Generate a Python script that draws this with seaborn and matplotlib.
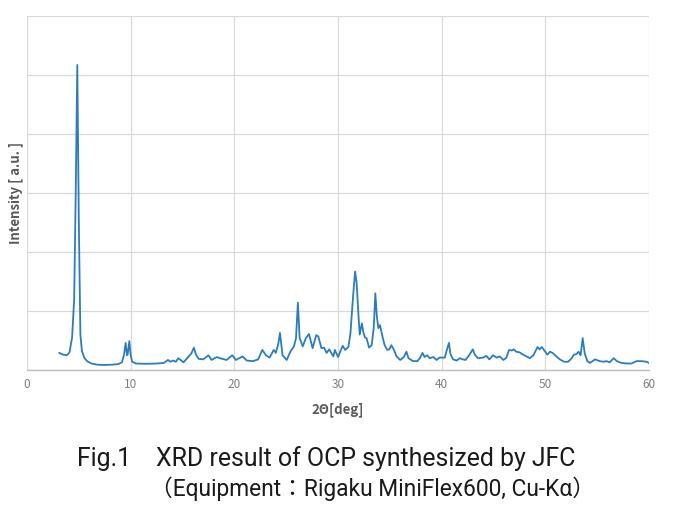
import matplotlib
matplotlib.use("Agg")
import matplotlib.pyplot as plt
import seaborn as sns
import pandas as pd

two_theta = [3.1, 3.5, 3.85, 4.1, 4.35, 4.55, 4.7, 4.85, 5.0, 5.15, 5.3, 5.55, 5.8, 6.2, 6.8, 7.5, 8.2, 8.8,
             9.15, 9.35, 9.52, 9.65, 9.72, 9.87, 10.0, 10.15, 10.5, 11.5, 12.5, 13.2, 13.6, 13.85, 14.1, 14.35,
             14.6, 15.1, 15.55, 15.85, 16.1, 16.3, 16.55, 17.0, 17.5, 17.8, 18.3, 18.6, 19.25, 19.8, 20.15,
             20.8, 21.2, 21.8, 22.3, 22.7, 23.05, 23.4, 23.8, 24.0, 24.25, 24.4, 24.65, 25.05, 25.4, 25.75,
             25.95, 26.13, 26.3, 26.6, 26.9, 27.2, 27.55, 27.9, 28.1, 28.4, 28.65, 28.9, 29.15, 29.55, 29.7,
             30.0, 30.45, 30.7, 31.0, 31.2, 31.45, 31.65, 31.8, 32.0, 32.1, 32.3, 32.45, 32.6, 32.75, 33.0,
             33.25, 33.45, 33.6, 33.75, 33.9, 34.05, 34.3, 34.5, 34.75, 34.95, 35.15, 35.4, 35.65, 36.0,
             36.35, 36.6, 36.8, 37.25, 37.65, 37.9, 38.15, 38.35, 38.6, 38.85, 39.2, 39.5, 39.8, 40.3, 40.5,
             40.7, 40.85, 41.1, 41.45, 41.75, 42.05, 42.3, 42.65, 43.0, 43.2, 43.5, 44.0, 44.3, 44.6, 44.95,
             45.3, 45.6, 45.95, 46.25, 46.5, 46.75, 46.95, 47.2, 47.5, 47.85, 48.2, 48.5, 48.85, 49.1, 49.25,
             49.45, 49.65, 49.95, 50.2, 50.45, 50.7, 51.0, 51.4, 51.8, 52.2, 52.55, 52.75, 53.0, 53.2, 53.4,
             53.6, 53.8, 54.05, 54.3, 54.8, 55.25, 55.6, 55.9, 56.2, 56.6, 56.9, 57.35, 57.85, 58.3, 58.8,
             59.3, 59.75, 60.0]
intensity = [0.29, 0.26, 0.25, 0.30, 0.55, 1.2, 3.0, 5.17, 2.5, 0.6, 0.32, 0.2, 0.15, 0.11, 0.09, 0.085, 0.09, 0.1,
             0.13, 0.25, 0.46, 0.25, 0.27, 0.49, 0.25, 0.14, 0.11, 0.105, 0.11, 0.12, 0.17, 0.14, 0.16, 0.14,
             0.2, 0.13, 0.22, 0.28, 0.38, 0.26, 0.19, 0.18, 0.25, 0.17, 0.22, 0.2, 0.17, 0.25, 0.17,
             0.23, 0.16, 0.15, 0.18, 0.34, 0.25, 0.21, 0.34, 0.29, 0.45, 0.63, 0.25, 0.17, 0.31, 0.4,
             0.54, 1.14, 0.54, 0.4, 0.54, 0.61, 0.37, 0.59, 0.57, 0.37, 0.38, 0.29, 0.35, 0.23, 0.34,
             0.22, 0.41, 0.34, 0.39, 0.62, 1.24, 1.67, 1.47, 0.85, 0.6, 0.79, 0.64, 0.55, 0.54, 0.38,
             0.42, 0.72, 1.3, 0.9, 0.71, 0.76, 0.56, 0.42, 0.34, 0.35, 0.42, 0.34, 0.23, 0.17,
             0.22, 0.31, 0.2, 0.15, 0.15, 0.2, 0.29, 0.22, 0.25, 0.2, 0.22, 0.17, 0.21, 0.21, 0.34,
             0.46, 0.27, 0.18, 0.16, 0.2, 0.18, 0.17, 0.25, 0.35, 0.26, 0.2, 0.21, 0.24, 0.18, 0.25,
             0.21, 0.23, 0.17, 0.21, 0.34, 0.33, 0.35, 0.31, 0.3, 0.26, 0.23, 0.2, 0.25, 0.34, 0.39,
             0.35, 0.39, 0.32, 0.26, 0.31, 0.29, 0.24, 0.18, 0.14, 0.14, 0.2, 0.26, 0.27, 0.31, 0.25,
             0.54, 0.28, 0.15, 0.12, 0.18, 0.15, 0.14, 0.15, 0.13, 0.2, 0.15, 0.12, 0.11, 0.11, 0.15,
             0.15, 0.14, 0.12]

x_ticks = [0, 10, 20, 30, 40, 50, 60]
x_label = "2Θ[deg]"
y_label = "Intensity [ a.u. ]"
caption1 = "Fig.1\u3000XRD result of OCP synthesized by JFC"
caption2 = "（Equipment：Rigaku MiniFlex600, Cu-Kα）"

df = pd.DataFrame({"two_theta": two_theta, "intensity": intensity})

sns.set_theme(style="white")
plt.rcParams["font.family"] = ["Noto Sans CJK JP", "DejaVu Sans"]

fig = plt.figure(figsize=(6.74, 5.14), dpi=100)
ax = fig.add_axes([27 / 674, 1 - 370 / 514, 622 / 674, 354 / 514])

sns.lineplot(data=df, x="two_theta", y="intensity", ax=ax, color="#2A7DC0",
             linewidth=1.3, sort=False)

ax.set_xlim(0, 60)
ax.set_ylim(0, 6)
ax.set_xticks(x_ticks)
ax.set_xticklabels([str(t) for t in x_ticks], color="#7f7f7f", fontsize=8.5)
ax.set_yticks(range(7))
ax.set_yticklabels([])
ax.tick_params(axis="both", length=0, pad=6)
ax.grid(True, color="#d9d9d9", linewidth=0.9)
for s in ["top", "right", "left"]:
    ax.spines[s].set_visible(False)
ax.spines["bottom"].set_color("#bfbfbf")
ax.spines["bottom"].set_linewidth(1.0)

ax.set_xlabel(x_label, fontsize=9.5, fontweight="bold", color="#595959", labelpad=8)
ax.set_ylabel(y_label, fontsize=9.5, fontweight="bold", color="#595959")
ax.yaxis.set_label_coords(-0.007, 0.5)

cap_family = ["Roboto", "Noto Sans CJK JP", "DejaVu Sans"]
fig.text(77 / 674, 1 - 459 / 514, caption1, fontsize=17.9, color="#1a1a1a",
         ha="left", va="center", family=cap_family)
fig.text(595 / 674, 1 - 489 / 514, caption2, fontsize=16.4, color="#1a1a1a",
         ha="right", va="center", family=cap_family)

fig.savefig("out.png", dpi=100, facecolor="white")
